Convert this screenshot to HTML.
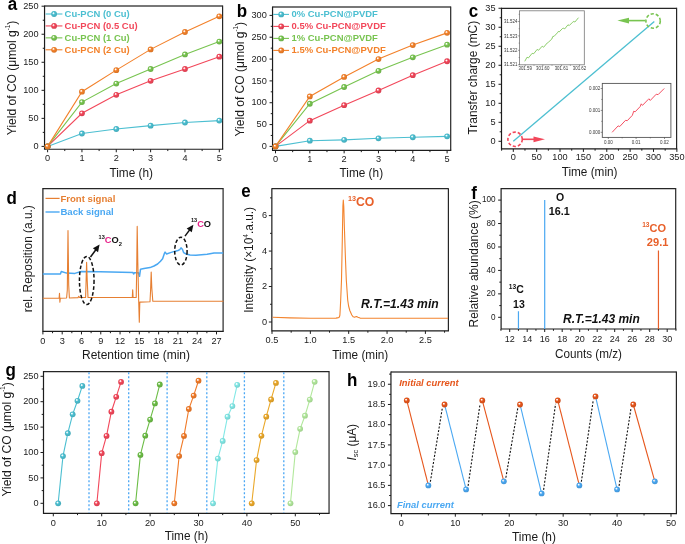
<!DOCTYPE html>
<html><head><meta charset="utf-8"><style>html,body{margin:0;padding:0;background:#fff;overflow:hidden}svg{display:block;filter:blur(0.3px)}</style></head>
<body><svg xmlns="http://www.w3.org/2000/svg" width="685" height="544" viewBox="0 0 685 544" font-family="'Liberation Sans', sans-serif">
<rect width="685" height="544" fill="#fff"/>
<defs><radialGradient id="g4cbfd1" cx="0.46" cy="0.46" r="0.58" fx="0.36" fy="0.34"><stop offset="0" stop-color="#fff"/><stop offset="0.1" stop-color="#fff" stop-opacity="0.85"/><stop offset="0.4" stop-color="#4cbfd1"/><stop offset="1" stop-color="#42a8b7"/></radialGradient><radialGradient id="gf2475a" cx="0.46" cy="0.46" r="0.58" fx="0.36" fy="0.34"><stop offset="0" stop-color="#fff"/><stop offset="0.1" stop-color="#fff" stop-opacity="0.85"/><stop offset="0.4" stop-color="#f2475a"/><stop offset="1" stop-color="#d43e4f"/></radialGradient><radialGradient id="g78c450" cx="0.46" cy="0.46" r="0.58" fx="0.36" fy="0.34"><stop offset="0" stop-color="#fff"/><stop offset="0.1" stop-color="#fff" stop-opacity="0.85"/><stop offset="0.4" stop-color="#78c450"/><stop offset="1" stop-color="#69ac46"/></radialGradient><radialGradient id="gf3812a" cx="0.46" cy="0.46" r="0.58" fx="0.36" fy="0.34"><stop offset="0" stop-color="#fff"/><stop offset="0.1" stop-color="#fff" stop-opacity="0.85"/><stop offset="0.4" stop-color="#f3812a"/><stop offset="1" stop-color="#d57124"/></radialGradient><radialGradient id="g6cbd46" cx="0.46" cy="0.46" r="0.58" fx="0.36" fy="0.34"><stop offset="0" stop-color="#fff"/><stop offset="0.1" stop-color="#fff" stop-opacity="0.85"/><stop offset="0.4" stop-color="#6cbd46"/><stop offset="1" stop-color="#5fa63d"/></radialGradient><radialGradient id="gf07a28" cx="0.46" cy="0.46" r="0.58" fx="0.36" fy="0.34"><stop offset="0" stop-color="#fff"/><stop offset="0.1" stop-color="#fff" stop-opacity="0.85"/><stop offset="0.4" stop-color="#f07a28"/><stop offset="1" stop-color="#d36b23"/></radialGradient><radialGradient id="g82e8e6" cx="0.46" cy="0.46" r="0.58" fx="0.36" fy="0.34"><stop offset="0" stop-color="#fff"/><stop offset="0.1" stop-color="#fff" stop-opacity="0.85"/><stop offset="0.4" stop-color="#82e8e6"/><stop offset="1" stop-color="#72ccca"/></radialGradient><radialGradient id="geaa82a" cx="0.46" cy="0.46" r="0.58" fx="0.36" fy="0.34"><stop offset="0" stop-color="#fff"/><stop offset="0.1" stop-color="#fff" stop-opacity="0.85"/><stop offset="0.4" stop-color="#eaa82a"/><stop offset="1" stop-color="#cd9324"/></radialGradient><radialGradient id="gb2e89c" cx="0.46" cy="0.46" r="0.58" fx="0.36" fy="0.34"><stop offset="0" stop-color="#fff"/><stop offset="0.1" stop-color="#fff" stop-opacity="0.85"/><stop offset="0.4" stop-color="#b2e89c"/><stop offset="1" stop-color="#9ccc89"/></radialGradient><radialGradient id="ge6561c" cx="0.46" cy="0.46" r="0.58" fx="0.36" fy="0.34"><stop offset="0" stop-color="#fff"/><stop offset="0.1" stop-color="#fff" stop-opacity="0.85"/><stop offset="0.4" stop-color="#e6561c"/><stop offset="1" stop-color="#ca4b18"/></radialGradient><radialGradient id="g4aa8f2" cx="0.46" cy="0.46" r="0.58" fx="0.36" fy="0.34"><stop offset="0" stop-color="#fff"/><stop offset="0.1" stop-color="#fff" stop-opacity="0.85"/><stop offset="0.4" stop-color="#4aa8f2"/><stop offset="1" stop-color="#4193d4"/></radialGradient></defs>
<path d="M44.55 6H222.6" fill="none" stroke="#4a4a4a" stroke-width="1.45"/>
<path d="M222.6 5.5V149.25" fill="none" stroke="#262626" stroke-width="1.2"/>
<path d="M44.55 5.5V149.25H223.2" fill="none" stroke="#1c1c1c" stroke-width="1.2"/>
<path d="M47.6 149.25v3M81.94 149.25v3M116.28 149.25v3M150.62 149.25v3M184.96 149.25v3M219.3 149.25v3M64.77 149.25v1.8M99.11 149.25v1.8M133.45 149.25v1.8M167.79 149.25v1.8M202.13 149.25v1.8" stroke="#1c1c1c" stroke-width="1.0"/>
<text x="47.6" y="161.4" font-size="9.57" text-anchor="middle" fill="#1a1a1a" textLength="5.12" lengthAdjust="spacingAndGlyphs">0</text>
<text x="81.94" y="161.4" font-size="9.57" text-anchor="middle" fill="#1a1a1a" textLength="5.12" lengthAdjust="spacingAndGlyphs">1</text>
<text x="116.28" y="161.4" font-size="9.57" text-anchor="middle" fill="#1a1a1a" textLength="5.12" lengthAdjust="spacingAndGlyphs">2</text>
<text x="150.62" y="161.4" font-size="9.57" text-anchor="middle" fill="#1a1a1a" textLength="5.12" lengthAdjust="spacingAndGlyphs">3</text>
<text x="184.96" y="161.4" font-size="9.57" text-anchor="middle" fill="#1a1a1a" textLength="5.12" lengthAdjust="spacingAndGlyphs">4</text>
<text x="219.3" y="161.4" font-size="9.57" text-anchor="middle" fill="#1a1a1a" textLength="5.12" lengthAdjust="spacingAndGlyphs">5</text>
<path d="M44.55 146.4h-3M44.55 118.36h-3M44.55 90.32h-3M44.55 62.28h-3M44.55 34.24h-3M44.55 6.2h-3M44.55 132.38h-1.8M44.55 104.34h-1.8M44.55 76.3h-1.8M44.55 48.26h-1.8M44.55 20.22h-1.8" stroke="#1c1c1c" stroke-width="1.0"/>
<text x="38.6" y="149" font-size="9.57" text-anchor="end" fill="#1a1a1a" textLength="5.12" lengthAdjust="spacingAndGlyphs">0</text>
<text x="38.6" y="120.96" font-size="9.57" text-anchor="end" fill="#1a1a1a" textLength="10.23" lengthAdjust="spacingAndGlyphs">50</text>
<text x="38.6" y="92.92" font-size="9.57" text-anchor="end" fill="#1a1a1a" textLength="15.35" lengthAdjust="spacingAndGlyphs">100</text>
<text x="38.6" y="64.88" font-size="9.57" text-anchor="end" fill="#1a1a1a" textLength="15.35" lengthAdjust="spacingAndGlyphs">150</text>
<text x="38.6" y="36.84" font-size="9.57" text-anchor="end" fill="#1a1a1a" textLength="15.35" lengthAdjust="spacingAndGlyphs">200</text>
<text x="38.6" y="8.8" font-size="9.57" text-anchor="end" fill="#1a1a1a" textLength="15.35" lengthAdjust="spacingAndGlyphs">250</text>
<polyline points="47.6,146.4 81.94,133.5 116.28,129.02 150.62,125.65 184.96,122.51 219.3,120.6" fill="none" stroke="#4cbfd1" stroke-width="1.1"/>
<circle cx="47.6" cy="146.4" r="2.9" fill="url(#g4cbfd1)"/>
<circle cx="81.94" cy="133.5" r="2.9" fill="url(#g4cbfd1)"/>
<circle cx="116.28" cy="129.02" r="2.9" fill="url(#g4cbfd1)"/>
<circle cx="150.62" cy="125.65" r="2.9" fill="url(#g4cbfd1)"/>
<circle cx="184.96" cy="122.51" r="2.9" fill="url(#g4cbfd1)"/>
<circle cx="219.3" cy="120.6" r="2.9" fill="url(#g4cbfd1)"/>
<polyline points="47.6,146.4 81.94,113.31 116.28,94.81 150.62,80.79 184.96,69.01 219.3,56.67" fill="none" stroke="#f2475a" stroke-width="1.1"/>
<circle cx="47.6" cy="146.4" r="2.9" fill="url(#gf2475a)"/>
<circle cx="81.94" cy="113.31" r="2.9" fill="url(#gf2475a)"/>
<circle cx="116.28" cy="94.81" r="2.9" fill="url(#gf2475a)"/>
<circle cx="150.62" cy="80.79" r="2.9" fill="url(#gf2475a)"/>
<circle cx="184.96" cy="69.01" r="2.9" fill="url(#gf2475a)"/>
<circle cx="219.3" cy="56.67" r="2.9" fill="url(#gf2475a)"/>
<polyline points="47.6,146.4 81.94,102.1 116.28,83.59 150.62,69.01 184.96,54.43 219.3,41.53" fill="none" stroke="#78c450" stroke-width="1.1"/>
<circle cx="47.6" cy="146.4" r="2.9" fill="url(#g78c450)"/>
<circle cx="81.94" cy="102.1" r="2.9" fill="url(#g78c450)"/>
<circle cx="116.28" cy="83.59" r="2.9" fill="url(#g78c450)"/>
<circle cx="150.62" cy="69.01" r="2.9" fill="url(#g78c450)"/>
<circle cx="184.96" cy="54.43" r="2.9" fill="url(#g78c450)"/>
<circle cx="219.3" cy="41.53" r="2.9" fill="url(#g78c450)"/>
<polyline points="47.6,146.4 81.94,91.72 116.28,70.13 150.62,49.38 184.96,32 219.3,16.29" fill="none" stroke="#f3812a" stroke-width="1.1"/>
<circle cx="47.6" cy="146.4" r="2.9" fill="url(#gf3812a)"/>
<circle cx="81.94" cy="91.72" r="2.9" fill="url(#gf3812a)"/>
<circle cx="116.28" cy="70.13" r="2.9" fill="url(#gf3812a)"/>
<circle cx="150.62" cy="49.38" r="2.9" fill="url(#gf3812a)"/>
<circle cx="184.96" cy="32" r="2.9" fill="url(#gf3812a)"/>
<circle cx="219.3" cy="16.29" r="2.9" fill="url(#gf3812a)"/>
<path d="M45.6 14H62.4" stroke="#4cbfd1" stroke-width="1.1"/>
<circle cx="54.1" cy="14" r="2.9" fill="url(#g4cbfd1)"/>
<text x="64.6" y="16.9" font-size="9.83" text-anchor="start" font-weight="bold" fill="#4cbfd1" textLength="65.09" lengthAdjust="spacingAndGlyphs">Cu-PCN (0 Cu)</text>
<path d="M45.6 25.93H62.4" stroke="#f2475a" stroke-width="1.1"/>
<circle cx="54.1" cy="25.93" r="2.9" fill="url(#gf2475a)"/>
<text x="64.6" y="28.83" font-size="9.83" text-anchor="start" font-weight="bold" fill="#f2475a" textLength="72.97" lengthAdjust="spacingAndGlyphs">Cu-PCN (0.5 Cu)</text>
<path d="M45.6 37.86H62.4" stroke="#78c450" stroke-width="1.1"/>
<circle cx="54.1" cy="37.86" r="2.9" fill="url(#g78c450)"/>
<text x="64.6" y="40.76" font-size="9.83" text-anchor="start" font-weight="bold" fill="#78c450" textLength="65.09" lengthAdjust="spacingAndGlyphs">Cu-PCN (1 Cu)</text>
<path d="M45.6 49.79H62.4" stroke="#f3812a" stroke-width="1.1"/>
<circle cx="54.1" cy="49.79" r="2.9" fill="url(#gf3812a)"/>
<text x="64.6" y="52.69" font-size="9.83" text-anchor="start" font-weight="bold" fill="#f3812a" textLength="65.09" lengthAdjust="spacingAndGlyphs">Cu-PCN (2 Cu)</text>
<text x="131.2" y="176.9" font-size="12.17" text-anchor="middle" fill="#1a1a1a" textLength="43.55" lengthAdjust="spacingAndGlyphs">Time (h)</text>
<text transform="translate(15.5 135.2) rotate(-90)" font-size="12.48" text-anchor="start" fill="#1a1a1a" textLength="114.46" lengthAdjust="spacingAndGlyphs">Yield of CO (μmol g<tspan font-size="6.45" dy="-6">-1</tspan><tspan dy="6">)</tspan></text>
<text x="7.8" y="10.1" font-size="17.68" text-anchor="start" font-weight="bold" fill="#000" textLength="9.45" lengthAdjust="spacingAndGlyphs">a</text>
<path d="M272.55 7.05H450.7" fill="none" stroke="#4a4a4a" stroke-width="1.45"/>
<path d="M450.7 6.55V150.35" fill="none" stroke="#262626" stroke-width="1.2"/>
<path d="M272.55 6.55V150.35H451.3" fill="none" stroke="#1c1c1c" stroke-width="1.2"/>
<path d="M275.5 150.35v3M309.82 150.35v3M344.14 150.35v3M378.46 150.35v3M412.78 150.35v3M447.1 150.35v3M292.66 150.35v1.8M326.98 150.35v1.8M361.3 150.35v1.8M395.62 150.35v1.8M429.94 150.35v1.8" stroke="#1c1c1c" stroke-width="1.0"/>
<text x="275.5" y="162.3" font-size="9.57" text-anchor="middle" fill="#1a1a1a" textLength="5.12" lengthAdjust="spacingAndGlyphs">0</text>
<text x="309.82" y="162.3" font-size="9.57" text-anchor="middle" fill="#1a1a1a" textLength="5.12" lengthAdjust="spacingAndGlyphs">1</text>
<text x="344.14" y="162.3" font-size="9.57" text-anchor="middle" fill="#1a1a1a" textLength="5.12" lengthAdjust="spacingAndGlyphs">2</text>
<text x="378.46" y="162.3" font-size="9.57" text-anchor="middle" fill="#1a1a1a" textLength="5.12" lengthAdjust="spacingAndGlyphs">3</text>
<text x="412.78" y="162.3" font-size="9.57" text-anchor="middle" fill="#1a1a1a" textLength="5.12" lengthAdjust="spacingAndGlyphs">4</text>
<text x="447.1" y="162.3" font-size="9.57" text-anchor="middle" fill="#1a1a1a" textLength="5.12" lengthAdjust="spacingAndGlyphs">5</text>
<path d="M272.55 146.4h-3M272.55 124.57h-3M272.55 102.73h-3M272.55 80.9h-3M272.55 59.07h-3M272.55 37.23h-3M272.55 15.4h-3M272.55 135.48h-1.8M272.55 113.65h-1.8M272.55 91.82h-1.8M272.55 69.98h-1.8M272.55 48.15h-1.8M272.55 26.32h-1.8" stroke="#1c1c1c" stroke-width="1.0"/>
<text x="266.8" y="149" font-size="9.57" text-anchor="end" fill="#1a1a1a" textLength="5.12" lengthAdjust="spacingAndGlyphs">0</text>
<text x="266.8" y="127.17" font-size="9.57" text-anchor="end" fill="#1a1a1a" textLength="10.23" lengthAdjust="spacingAndGlyphs">50</text>
<text x="266.8" y="105.33" font-size="9.57" text-anchor="end" fill="#1a1a1a" textLength="15.35" lengthAdjust="spacingAndGlyphs">100</text>
<text x="266.8" y="83.5" font-size="9.57" text-anchor="end" fill="#1a1a1a" textLength="15.35" lengthAdjust="spacingAndGlyphs">150</text>
<text x="266.8" y="61.67" font-size="9.57" text-anchor="end" fill="#1a1a1a" textLength="15.35" lengthAdjust="spacingAndGlyphs">200</text>
<text x="266.8" y="39.83" font-size="9.57" text-anchor="end" fill="#1a1a1a" textLength="15.35" lengthAdjust="spacingAndGlyphs">250</text>
<text x="266.8" y="18" font-size="9.57" text-anchor="end" fill="#1a1a1a" textLength="15.35" lengthAdjust="spacingAndGlyphs">300</text>
<polyline points="275.5,146.4 309.82,140.72 344.14,139.85 378.46,138.32 412.78,137.23 447.1,136.36" fill="none" stroke="#4cbfd1" stroke-width="1.1"/>
<circle cx="275.5" cy="146.4" r="2.9" fill="url(#g4cbfd1)"/>
<circle cx="309.82" cy="140.72" r="2.9" fill="url(#g4cbfd1)"/>
<circle cx="344.14" cy="139.85" r="2.9" fill="url(#g4cbfd1)"/>
<circle cx="378.46" cy="138.32" r="2.9" fill="url(#g4cbfd1)"/>
<circle cx="412.78" cy="137.23" r="2.9" fill="url(#g4cbfd1)"/>
<circle cx="447.1" cy="136.36" r="2.9" fill="url(#g4cbfd1)"/>
<polyline points="275.5,146.4 309.82,120.64 344.14,105.14 378.46,90.51 412.78,75.22 447.1,61.25" fill="none" stroke="#f2475a" stroke-width="1.1"/>
<circle cx="275.5" cy="146.4" r="2.9" fill="url(#gf2475a)"/>
<circle cx="309.82" cy="120.64" r="2.9" fill="url(#gf2475a)"/>
<circle cx="344.14" cy="105.14" r="2.9" fill="url(#gf2475a)"/>
<circle cx="378.46" cy="90.51" r="2.9" fill="url(#gf2475a)"/>
<circle cx="412.78" cy="75.22" r="2.9" fill="url(#gf2475a)"/>
<circle cx="447.1" cy="61.25" r="2.9" fill="url(#gf2475a)"/>
<polyline points="275.5,146.4 309.82,103.74 344.14,87.01 378.46,70.86 412.78,57.32 447.1,44.66" fill="none" stroke="#78c450" stroke-width="1.1"/>
<circle cx="275.5" cy="146.4" r="2.9" fill="url(#g78c450)"/>
<circle cx="309.82" cy="103.74" r="2.9" fill="url(#g78c450)"/>
<circle cx="344.14" cy="87.01" r="2.9" fill="url(#g78c450)"/>
<circle cx="378.46" cy="70.86" r="2.9" fill="url(#g78c450)"/>
<circle cx="412.78" cy="57.32" r="2.9" fill="url(#g78c450)"/>
<circle cx="447.1" cy="44.66" r="2.9" fill="url(#g78c450)"/>
<polyline points="275.5,146.4 309.82,96.4 344.14,76.97 378.46,59.07 412.78,45.09 447.1,32.87" fill="none" stroke="#f3812a" stroke-width="1.1"/>
<circle cx="275.5" cy="146.4" r="2.9" fill="url(#gf3812a)"/>
<circle cx="309.82" cy="96.4" r="2.9" fill="url(#gf3812a)"/>
<circle cx="344.14" cy="76.97" r="2.9" fill="url(#gf3812a)"/>
<circle cx="378.46" cy="59.07" r="2.9" fill="url(#gf3812a)"/>
<circle cx="412.78" cy="45.09" r="2.9" fill="url(#gf3812a)"/>
<circle cx="447.1" cy="32.87" r="2.9" fill="url(#gf3812a)"/>
<path d="M273.2 14.4H289" stroke="#4cbfd1" stroke-width="1.1"/>
<circle cx="281.2" cy="14.4" r="2.9" fill="url(#g4cbfd1)"/>
<text x="291.5" y="17.3" font-size="9.83" text-anchor="start" font-weight="bold" fill="#4cbfd1" textLength="86.40" lengthAdjust="spacingAndGlyphs">0% Cu-PCN@PVDF</text>
<path d="M273.2 26.4H289" stroke="#f2475a" stroke-width="1.1"/>
<circle cx="281.2" cy="26.4" r="2.9" fill="url(#gf2475a)"/>
<text x="291.5" y="29.3" font-size="9.83" text-anchor="start" font-weight="bold" fill="#f2475a" textLength="94.28" lengthAdjust="spacingAndGlyphs">0.5% Cu-PCN@PVDF</text>
<path d="M273.2 38.4H289" stroke="#78c450" stroke-width="1.1"/>
<circle cx="281.2" cy="38.4" r="2.9" fill="url(#g78c450)"/>
<text x="291.5" y="41.3" font-size="9.83" text-anchor="start" font-weight="bold" fill="#78c450" textLength="86.40" lengthAdjust="spacingAndGlyphs">1% Cu-PCN@PVDF</text>
<path d="M273.2 50.4H289" stroke="#f3812a" stroke-width="1.1"/>
<circle cx="281.2" cy="50.4" r="2.9" fill="url(#gf3812a)"/>
<text x="291.5" y="53.3" font-size="9.83" text-anchor="start" font-weight="bold" fill="#f3812a" textLength="94.28" lengthAdjust="spacingAndGlyphs">1.5% Cu-PCN@PVDF</text>
<text x="361.3" y="176.9" font-size="12.17" text-anchor="middle" fill="#1a1a1a" textLength="43.55" lengthAdjust="spacingAndGlyphs">Time (h)</text>
<text transform="translate(243.8 136.5) rotate(-90)" font-size="12.48" text-anchor="start" fill="#1a1a1a" textLength="114.46" lengthAdjust="spacingAndGlyphs">Yield of CO (μmol g<tspan font-size="6.45" dy="-6">-1</tspan><tspan dy="6">)</tspan></text>
<text x="236.8" y="16.5" font-size="17.68" text-anchor="start" font-weight="bold" fill="#000" textLength="10.38" lengthAdjust="spacingAndGlyphs">b</text>
<path d="M501.5 8.25H676.6" fill="none" stroke="#262626" stroke-width="1.25"/>
<path d="M676.6 7.75V148.9" fill="none" stroke="#262626" stroke-width="1.2"/>
<path d="M501.5 7.75V148.9H677.2" fill="none" stroke="#1c1c1c" stroke-width="1.2"/>
<path d="M513.3 148.9v3M536.67 148.9v3M560.03 148.9v3M583.4 148.9v3M606.77 148.9v3M630.13 148.9v3M653.5 148.9v3M676.87 148.9v3M524.98 148.9v1.8M548.35 148.9v1.8M571.72 148.9v1.8M595.08 148.9v1.8M618.45 148.9v1.8M641.82 148.9v1.8M665.18 148.9v1.8M501.62 148.9v1.8" stroke="#1c1c1c" stroke-width="1.0"/>
<text x="513.3" y="160.4" font-size="9.57" text-anchor="middle" fill="#1a1a1a" textLength="5.12" lengthAdjust="spacingAndGlyphs">0</text>
<text x="536.67" y="160.4" font-size="9.57" text-anchor="middle" fill="#1a1a1a" textLength="10.23" lengthAdjust="spacingAndGlyphs">50</text>
<text x="560.03" y="160.4" font-size="9.57" text-anchor="middle" fill="#1a1a1a" textLength="15.35" lengthAdjust="spacingAndGlyphs">100</text>
<text x="583.4" y="160.4" font-size="9.57" text-anchor="middle" fill="#1a1a1a" textLength="15.35" lengthAdjust="spacingAndGlyphs">150</text>
<text x="606.77" y="160.4" font-size="9.57" text-anchor="middle" fill="#1a1a1a" textLength="15.35" lengthAdjust="spacingAndGlyphs">200</text>
<text x="630.13" y="160.4" font-size="9.57" text-anchor="middle" fill="#1a1a1a" textLength="15.35" lengthAdjust="spacingAndGlyphs">250</text>
<text x="653.5" y="160.4" font-size="9.57" text-anchor="middle" fill="#1a1a1a" textLength="15.35" lengthAdjust="spacingAndGlyphs">300</text>
<text x="676.87" y="160.4" font-size="9.57" text-anchor="middle" fill="#1a1a1a" textLength="15.35" lengthAdjust="spacingAndGlyphs">350</text>
<path d="M501.5 141.3h-3M501.5 122.29h-3M501.5 103.29h-3M501.5 84.28h-3M501.5 65.27h-3M501.5 46.26h-3M501.5 27.26h-3M501.5 8.25h-3M501.5 131.8h-1.8M501.5 112.79h-1.8M501.5 93.78h-1.8M501.5 74.78h-1.8M501.5 55.77h-1.8M501.5 36.76h-1.8M501.5 17.75h-1.8" stroke="#1c1c1c" stroke-width="1.0"/>
<text x="495.6" y="143.9" font-size="9.57" text-anchor="end" fill="#1a1a1a" textLength="5.12" lengthAdjust="spacingAndGlyphs">0</text>
<text x="495.6" y="124.89" font-size="9.57" text-anchor="end" fill="#1a1a1a" textLength="5.12" lengthAdjust="spacingAndGlyphs">5</text>
<text x="495.6" y="105.89" font-size="9.57" text-anchor="end" fill="#1a1a1a" textLength="10.23" lengthAdjust="spacingAndGlyphs">10</text>
<text x="495.6" y="86.88" font-size="9.57" text-anchor="end" fill="#1a1a1a" textLength="10.23" lengthAdjust="spacingAndGlyphs">15</text>
<text x="495.6" y="67.87" font-size="9.57" text-anchor="end" fill="#1a1a1a" textLength="10.23" lengthAdjust="spacingAndGlyphs">20</text>
<text x="495.6" y="48.86" font-size="9.57" text-anchor="end" fill="#1a1a1a" textLength="10.23" lengthAdjust="spacingAndGlyphs">25</text>
<text x="495.6" y="29.86" font-size="9.57" text-anchor="end" fill="#1a1a1a" textLength="10.23" lengthAdjust="spacingAndGlyphs">30</text>
<text x="495.6" y="10.85" font-size="9.57" text-anchor="end" fill="#1a1a1a" textLength="10.23" lengthAdjust="spacingAndGlyphs">35</text>
<path d="M513.3 141.3L654.3 21.4" stroke="#4cbfd1" stroke-width="1.3"/>
<text x="589.6" y="175.9" font-size="12.17" text-anchor="middle" fill="#1a1a1a" textLength="55.89" lengthAdjust="spacingAndGlyphs">Time (min)</text>
<text transform="translate(477.3 134.5) rotate(-90)" font-size="12.38" text-anchor="start" fill="#1a1a1a" textLength="113.74" lengthAdjust="spacingAndGlyphs">Transfer charge (mC)</text>
<text x="468.8" y="17.3" font-size="17.68" text-anchor="start" font-weight="bold" fill="#000" textLength="9.45" lengthAdjust="spacingAndGlyphs">c</text>
<circle cx="515.1" cy="139.3" r="7.2" fill="none" stroke="#f2475a" stroke-width="1.6" stroke-dasharray="3.2 2"/>
<path d="M523 139.3H535" stroke="#f2475a" stroke-width="1.6"/><path d="M533.5 136.4L545 139.3L533.5 142.2Z" fill="#f2475a"/>
<circle cx="653.1" cy="21" r="7.2" fill="none" stroke="#78c450" stroke-width="1.6" stroke-dasharray="3.2 2"/>
<path d="M645 20.6H627" stroke="#78c450" stroke-width="1.6"/><path d="M629 17.7L617.4 20.6L629 23.5Z" fill="#78c450"/>
<rect x="519.6" y="10.8" width="64.7" height="54" fill="#fff" stroke="#777" stroke-width="0.8"/>
<path d="M519.6 21.5h-1.5M519.6 35.9h-1.5M519.6 50.3h-1.5M519.6 64.7h-1.5M519.6 28.7h-0.9M519.6 43.1h-0.9M519.6 57.5h-0.9M519.6 14.3h-0.9M525.2 64.8v1.5M542.8 64.8v1.5M561.4 64.8v1.5M579.5 64.8v1.5M534 64.8v0.9M552 64.8v0.9M570.4 64.8v0.9" stroke="#555" stroke-width="0.6"/>
<text x="517.4" y="23.1" font-size="4.58" text-anchor="end" fill="#333" textLength="13.46" lengthAdjust="spacingAndGlyphs">31.524</text>
<text x="517.4" y="37.5" font-size="4.58" text-anchor="end" fill="#333" textLength="13.46" lengthAdjust="spacingAndGlyphs">31.523</text>
<text x="517.4" y="51.9" font-size="4.58" text-anchor="end" fill="#333" textLength="13.46" lengthAdjust="spacingAndGlyphs">31.522</text>
<text x="517.4" y="66.3" font-size="4.58" text-anchor="end" fill="#333" textLength="13.46" lengthAdjust="spacingAndGlyphs">31.521</text>
<text x="525.2" y="70.4" font-size="4.58" text-anchor="middle" fill="#333" textLength="13.46" lengthAdjust="spacingAndGlyphs">301.59</text>
<text x="542.8" y="70.4" font-size="4.58" text-anchor="middle" fill="#333" textLength="13.46" lengthAdjust="spacingAndGlyphs">301.60</text>
<text x="561.4" y="70.4" font-size="4.58" text-anchor="middle" fill="#333" textLength="13.46" lengthAdjust="spacingAndGlyphs">301.61</text>
<text x="579.5" y="70.4" font-size="4.58" text-anchor="middle" fill="#333" textLength="13.46" lengthAdjust="spacingAndGlyphs">301.62</text>
<polyline points="524.76,61.32 527.05,57.19 528.43,57.92 532.11,53.33 533.76,53.69 537.16,49.38 538.54,50.3 542.22,46.16 543.59,47.26 547.27,42.94 548.65,42.03 551.86,38.99 552.78,36.51 554.16,36.24 557.38,32.84 558.3,31.46 559.21,31.92 562.43,28.52 563.81,28.24 564.73,28.89 567.94,24.84 569.32,25.49 572.54,22.27 573.92,21.35 574.83,22.09 578.51,17.68" fill="none" stroke="#78c450" stroke-width="0.85" stroke-linejoin="round"/>
<rect x="602.3" y="83.4" width="68.6" height="54" fill="#fff" stroke="#555" stroke-width="0.9"/>
<path d="M602.3 88.5h-1.6M602.3 110.4h-1.6M602.3 132.3h-1.6M602.3 99.45h-1M602.3 121.35h-1M608.3 137.4v1.6M636.1 137.4v1.6M664.5 137.4v1.6M622.2 137.4v1M650.3 137.4v1" stroke="#444" stroke-width="0.6"/>
<text x="600.2" y="90.1" font-size="4.68" text-anchor="end" fill="#333" textLength="11.26" lengthAdjust="spacingAndGlyphs">0.002</text>
<text x="600.2" y="112" font-size="4.68" text-anchor="end" fill="#333" textLength="11.26" lengthAdjust="spacingAndGlyphs">0.001</text>
<text x="600.2" y="133.9" font-size="4.68" text-anchor="end" fill="#333" textLength="11.26" lengthAdjust="spacingAndGlyphs">0.000</text>
<text x="608.3" y="143.6" font-size="4.68" text-anchor="middle" fill="#333" textLength="8.76" lengthAdjust="spacingAndGlyphs">0.00</text>
<text x="636.1" y="143.6" font-size="4.68" text-anchor="middle" fill="#333" textLength="8.76" lengthAdjust="spacingAndGlyphs">0.01</text>
<text x="664.5" y="143.6" font-size="4.68" text-anchor="middle" fill="#333" textLength="8.76" lengthAdjust="spacingAndGlyphs">0.02</text>
<polyline points="612.13,132.32 618.11,125.89 619.76,126.53 625.46,120.38 627.3,120.65 632.35,115.32 633.73,111.19 635.11,111.83 640.16,106.59 641.26,103.84 642.46,105.4 647.97,99.7 648.89,98.78 650.27,100.44 656.24,94.19 658.08,94.65 664.23,88.49" fill="none" stroke="#f2475a" stroke-width="0.95" stroke-linejoin="round"/>
<path d="M42.9 188.6H223.1" fill="none" stroke="#262626" stroke-width="1.25"/>
<path d="M223.1 188.1V331.4" fill="none" stroke="#262626" stroke-width="1.2"/>
<path d="M42.9 188.1V331.4H223.7" fill="none" stroke="#1c1c1c" stroke-width="1.2"/>
<path d="M42.9 331.4v3M62.19 331.4v3M81.48 331.4v3M100.77 331.4v3M120.06 331.4v3M139.34 331.4v3M158.63 331.4v3M177.92 331.4v3M197.21 331.4v3M216.5 331.4v3M52.54 331.4v1.8M71.83 331.4v1.8M91.12 331.4v1.8M110.41 331.4v1.8M129.7 331.4v1.8M148.99 331.4v1.8M168.28 331.4v1.8M187.57 331.4v1.8M206.86 331.4v1.8" stroke="#1c1c1c" stroke-width="1.0"/>
<text x="42.9" y="344" font-size="9.57" text-anchor="middle" fill="#1a1a1a" textLength="5.12" lengthAdjust="spacingAndGlyphs">0</text>
<text x="62.19" y="344" font-size="9.57" text-anchor="middle" fill="#1a1a1a" textLength="5.12" lengthAdjust="spacingAndGlyphs">3</text>
<text x="81.48" y="344" font-size="9.57" text-anchor="middle" fill="#1a1a1a" textLength="5.12" lengthAdjust="spacingAndGlyphs">6</text>
<text x="100.77" y="344" font-size="9.57" text-anchor="middle" fill="#1a1a1a" textLength="5.12" lengthAdjust="spacingAndGlyphs">9</text>
<text x="120.06" y="344" font-size="9.57" text-anchor="middle" fill="#1a1a1a" textLength="10.23" lengthAdjust="spacingAndGlyphs">12</text>
<text x="139.34" y="344" font-size="9.57" text-anchor="middle" fill="#1a1a1a" textLength="10.23" lengthAdjust="spacingAndGlyphs">15</text>
<text x="158.63" y="344" font-size="9.57" text-anchor="middle" fill="#1a1a1a" textLength="10.23" lengthAdjust="spacingAndGlyphs">18</text>
<text x="177.92" y="344" font-size="9.57" text-anchor="middle" fill="#1a1a1a" textLength="10.23" lengthAdjust="spacingAndGlyphs">21</text>
<text x="197.21" y="344" font-size="9.57" text-anchor="middle" fill="#1a1a1a" textLength="10.23" lengthAdjust="spacingAndGlyphs">24</text>
<text x="216.5" y="344" font-size="9.57" text-anchor="middle" fill="#1a1a1a" textLength="10.23" lengthAdjust="spacingAndGlyphs">27</text>
<polyline points="42.8,274 60.4,274 61.3,271.5 66.6,273.1 74.9,273.4 78,272.4 81.3,271.6 100,271.8 133,272.6 133.6,274 134.3,272.8 138.4,272.8 139.5,276.3 140.5,269.3 144,268.6 150,267.6 154,266 157.6,264 160.5,261.2 162.6,258.7 164.3,253.7 165.1,252.1 166.6,254 170.4,252.6 174.5,251.4 178,250.5 179.8,249.6 181,247.9 182.4,249.3 183.6,252.6 186.2,254 190,255 195.9,255.3 207.1,254.2 214.1,252.9 223.2,252.9" fill="none" stroke="#4aa8f2" stroke-width="1.5" stroke-linejoin="round"/>
<polyline points="42.8,298.3 59.1,298.3 59.5,293.2 59.9,302.2 60.3,298.2 66.6,298 67.3,290 68,230.5 68.7,285 69.4,298 78,297.6 78.8,296.3 79.6,297.5 85.6,297.5 86,285 86.6,262.2 87.2,280 88,297.5 132.3,297.5 132.7,289.8 133.1,297.5 136.2,297.5 136.7,270 137.2,226.4 137.8,262 138.6,297.5 139.3,322.2 139.8,302.1 150,301.8 150.6,290 151.2,272 151.8,288 152.8,301.3 223.5,301.3" fill="none" stroke="#e67f32" stroke-width="1.1" stroke-linejoin="round"/>
<path d="M45.5 198.4H59.6" stroke="#e67f32" stroke-width="1.2"/><path d="M45.5 212H59.6" stroke="#4aa8f2" stroke-width="1.4"/>
<text x="60.4" y="201.7" font-size="9.98" text-anchor="start" font-weight="bold" fill="#e67f32" textLength="54.93" lengthAdjust="spacingAndGlyphs">Front signal</text>
<text x="60.4" y="215.3" font-size="9.98" text-anchor="start" font-weight="bold" fill="#4aa8f2" textLength="53.36" lengthAdjust="spacingAndGlyphs">Back signal</text>
<ellipse cx="86.75" cy="280.5" rx="7.3" ry="24.1" fill="none" stroke="#111" stroke-width="1.5" stroke-dasharray="3.6 2.2"/>
<ellipse cx="180.9" cy="251.1" rx="6.2" ry="13.9" fill="none" stroke="#111" stroke-width="1.5" stroke-dasharray="3.6 2.2"/>
<path d="M90.5 257L96.05 249.44" stroke="#111" stroke-width="1.5"/>
<path d="M99.6 244.6L98.04 252.14L92.88 248.35Z" fill="#111"/>
<path d="M185 236.1L189.82 229.62" stroke="#111" stroke-width="1.5"/>
<path d="M193.4 224.8L191.79 232.33L186.66 228.51Z" fill="#111"/>
<text x="98.6" y="243.3" font-weight="bold" fill="#111" textLength="23.40" lengthAdjust="spacingAndGlyphs"><tspan font-size="5.82" dy="-4.6">13</tspan><tspan font-size="9.67" dy="4.6" fill="#e8208a">C</tspan><tspan font-size="9.67">O</tspan><tspan font-size="6.03" dy="2.8">2</tspan></text>
<text x="190.9" y="226.9" font-weight="bold" fill="#111" textLength="20.18" lengthAdjust="spacingAndGlyphs"><tspan font-size="5.82" dy="-4.6">13</tspan><tspan font-size="9.67" dy="4.6" fill="#e8208a">C</tspan><tspan font-size="9.67">O</tspan></text>
<text x="136" y="358.6" font-size="12.48" text-anchor="middle" fill="#1a1a1a" textLength="108.04" lengthAdjust="spacingAndGlyphs">Retention time (min)</text>
<text transform="translate(32.3 312.3) rotate(-90)" font-size="12.38" text-anchor="start" fill="#1a1a1a" textLength="107.15" lengthAdjust="spacingAndGlyphs">rel. Reposition (a.u.)</text>
<text x="6.4" y="203.5" font-size="17.68" text-anchor="start" font-weight="bold" fill="#000" textLength="10.38" lengthAdjust="spacingAndGlyphs">d</text>
<path d="M271.85 188.65H448.4" fill="none" stroke="#262626" stroke-width="1.25"/>
<path d="M448.4 188.15V330.9" fill="none" stroke="#262626" stroke-width="1.2"/>
<path d="M271.85 188.15V330.9H449" fill="none" stroke="#1c1c1c" stroke-width="1.2"/>
<path d="M272 330.9v3M310.35 330.9v3M348.7 330.9v3M387.05 330.9v3M425.4 330.9v3M291.18 330.9v1.8M329.52 330.9v1.8M367.88 330.9v1.8M406.22 330.9v1.8M444.57 330.9v1.8" stroke="#1c1c1c" stroke-width="1.0"/>
<text x="272" y="343" font-size="9.57" text-anchor="middle" fill="#1a1a1a" textLength="12.79" lengthAdjust="spacingAndGlyphs">0.5</text>
<text x="310.35" y="343" font-size="9.57" text-anchor="middle" fill="#1a1a1a" textLength="12.79" lengthAdjust="spacingAndGlyphs">1.0</text>
<text x="348.7" y="343" font-size="9.57" text-anchor="middle" fill="#1a1a1a" textLength="12.79" lengthAdjust="spacingAndGlyphs">1.5</text>
<text x="387.05" y="343" font-size="9.57" text-anchor="middle" fill="#1a1a1a" textLength="12.79" lengthAdjust="spacingAndGlyphs">2.0</text>
<text x="425.4" y="343" font-size="9.57" text-anchor="middle" fill="#1a1a1a" textLength="12.79" lengthAdjust="spacingAndGlyphs">2.5</text>
<path d="M271.85 322h-3M271.85 286.53h-3M271.85 251.07h-3M271.85 215.6h-3M271.85 304.27h-1.8M271.85 268.8h-1.8M271.85 233.33h-1.8M271.85 197.87h-1.8" stroke="#1c1c1c" stroke-width="1.0"/>
<text x="267" y="324.6" font-size="9.57" text-anchor="end" fill="#1a1a1a" textLength="5.12" lengthAdjust="spacingAndGlyphs">0</text>
<text x="267" y="289.13" font-size="9.57" text-anchor="end" fill="#1a1a1a" textLength="5.12" lengthAdjust="spacingAndGlyphs">2</text>
<text x="267" y="253.67" font-size="9.57" text-anchor="end" fill="#1a1a1a" textLength="5.12" lengthAdjust="spacingAndGlyphs">4</text>
<text x="267" y="218.2" font-size="9.57" text-anchor="end" fill="#1a1a1a" textLength="5.12" lengthAdjust="spacingAndGlyphs">6</text>
<polyline points="272.5,317.3 290,317.9 310.5,318.2 330,318.2 336,318.1 338.5,317.6 339.4,317.1 339.9,315 340.3,308 340.7,300 341.5,280 342.3,240 342.9,206 343.3,200.1 343.8,207 344.4,228 345.5,260 346.3,280 347.7,300 348.6,306 349.8,310.5 351.8,315 353.2,316.8 354.5,317.2 356.4,316.5 358,317.3 360.1,318.1 380,318.3 448,318.3" fill="none" stroke="#f3842e" stroke-width="1.1" stroke-linejoin="round"/>
<text x="347.9" y="206.3" font-weight="bold" fill="#e8602a" textLength="26.31" lengthAdjust="spacingAndGlyphs"><tspan font-size="7.49" dy="-5.6">13</tspan><tspan font-size="12.69" dy="5.6">CO</tspan></text>
<text x="361" y="307.7" font-size="12.48" text-anchor="start" font-weight="bold" font-style="italic" fill="#111" textLength="77.70" lengthAdjust="spacingAndGlyphs">R.T.=1.43 min</text>
<text x="360.3" y="358.7" font-size="12.17" text-anchor="middle" fill="#1a1a1a" textLength="55.89" lengthAdjust="spacingAndGlyphs">Time (min)</text>
<text transform="translate(252.8 312.7) rotate(-90)" font-size="12.38" text-anchor="start" fill="#1a1a1a" textLength="105.80" lengthAdjust="spacingAndGlyphs">Intemsity (×10<tspan font-size="6.76" dy="-4.5">4</tspan><tspan dy="4.5">.a.u.)</tspan></text>
<text x="241.3" y="196.5" font-size="17.68" text-anchor="start" font-weight="bold" fill="#000" textLength="9.45" lengthAdjust="spacingAndGlyphs">e</text>
<path d="M501.1 188.5H675.7" fill="none" stroke="#262626" stroke-width="1.25"/>
<path d="M675.7 188V329" fill="none" stroke="#262626" stroke-width="1.2"/>
<path d="M501.1 188V329H676.3" fill="none" stroke="#1c1c1c" stroke-width="1.2"/>
<path d="M509.7 329v3M527.2 329v3M544.7 329v3M562.2 329v3M579.7 329v3M597.2 329v3M614.7 329v3M632.2 329v3M649.7 329v3M667.2 329v3M500.95 329v1.8M518.45 329v1.8M535.95 329v1.8M553.45 329v1.8M570.95 329v1.8M588.45 329v1.8M605.95 329v1.8M623.45 329v1.8M640.95 329v1.8M658.45 329v1.8M675.95 329v1.8" stroke="#1c1c1c" stroke-width="1.0"/>
<text x="509.7" y="341.7" font-size="9.36" text-anchor="middle" fill="#1a1a1a" textLength="10.01" lengthAdjust="spacingAndGlyphs">12</text>
<text x="527.2" y="341.7" font-size="9.36" text-anchor="middle" fill="#1a1a1a" textLength="10.01" lengthAdjust="spacingAndGlyphs">14</text>
<text x="544.7" y="341.7" font-size="9.36" text-anchor="middle" fill="#1a1a1a" textLength="10.01" lengthAdjust="spacingAndGlyphs">16</text>
<text x="562.2" y="341.7" font-size="9.36" text-anchor="middle" fill="#1a1a1a" textLength="10.01" lengthAdjust="spacingAndGlyphs">18</text>
<text x="579.7" y="341.7" font-size="9.36" text-anchor="middle" fill="#1a1a1a" textLength="10.01" lengthAdjust="spacingAndGlyphs">20</text>
<text x="597.2" y="341.7" font-size="9.36" text-anchor="middle" fill="#1a1a1a" textLength="10.01" lengthAdjust="spacingAndGlyphs">22</text>
<text x="614.7" y="341.7" font-size="9.36" text-anchor="middle" fill="#1a1a1a" textLength="10.01" lengthAdjust="spacingAndGlyphs">24</text>
<text x="632.2" y="341.7" font-size="9.36" text-anchor="middle" fill="#1a1a1a" textLength="10.01" lengthAdjust="spacingAndGlyphs">26</text>
<text x="649.7" y="341.7" font-size="9.36" text-anchor="middle" fill="#1a1a1a" textLength="10.01" lengthAdjust="spacingAndGlyphs">28</text>
<text x="667.2" y="341.7" font-size="9.36" text-anchor="middle" fill="#1a1a1a" textLength="10.01" lengthAdjust="spacingAndGlyphs">30</text>
<path d="M501.1 317.3h-3M501.1 293.86h-3M501.1 270.42h-3M501.1 246.98h-3M501.1 223.54h-3M501.1 200.1h-3M501.1 305.58h-1.8M501.1 282.14h-1.8M501.1 258.7h-1.8M501.1 235.26h-1.8M501.1 211.82h-1.8" stroke="#1c1c1c" stroke-width="1.0"/>
<text x="495.6" y="319.5" font-size="8.53" text-anchor="end" fill="#1a1a1a" textLength="4.56" lengthAdjust="spacingAndGlyphs">0</text>
<text x="495.6" y="296.06" font-size="8.53" text-anchor="end" fill="#1a1a1a" textLength="9.12" lengthAdjust="spacingAndGlyphs">20</text>
<text x="495.6" y="272.62" font-size="8.53" text-anchor="end" fill="#1a1a1a" textLength="9.12" lengthAdjust="spacingAndGlyphs">40</text>
<text x="495.6" y="249.18" font-size="8.53" text-anchor="end" fill="#1a1a1a" textLength="9.12" lengthAdjust="spacingAndGlyphs">60</text>
<text x="495.6" y="225.74" font-size="8.53" text-anchor="end" fill="#1a1a1a" textLength="9.12" lengthAdjust="spacingAndGlyphs">80</text>
<text x="495.6" y="202.3" font-size="8.53" text-anchor="end" fill="#1a1a1a" textLength="13.68" lengthAdjust="spacingAndGlyphs">100</text>
<path d="M518.45 311.21V329M544.7 200.1V329" stroke="#4aa8f2" stroke-width="1.2"/>
<path d="M658.45 250.5V329" stroke="#e8602a" stroke-width="1.2"/>
<text x="560.1" y="200.7" font-size="10.92" text-anchor="middle" font-weight="bold" fill="#111" textLength="8.17" lengthAdjust="spacingAndGlyphs">O</text>
<text x="559.2" y="215" font-size="11.23" text-anchor="middle" font-weight="bold" fill="#111" textLength="21.02" lengthAdjust="spacingAndGlyphs">16.1</text>
<text x="508.8" y="293.3" font-weight="bold" fill="#111" textLength="14.92" lengthAdjust="spacingAndGlyphs"><tspan font-size="6.86" dy="-4.4">13</tspan><tspan font-size="10.92" dy="4.4">C</tspan></text>
<text x="518.9" y="307.7" font-size="10.92" text-anchor="middle" font-weight="bold" fill="#111" textLength="11.68" lengthAdjust="spacingAndGlyphs">13</text>
<text x="642.2" y="231.7" font-weight="bold" fill="#e8602a" textLength="23.84" lengthAdjust="spacingAndGlyphs"><tspan font-size="6.86" dy="-4.4">13</tspan><tspan font-size="11.44" dy="4.4">CO</tspan></text>
<text x="657.6" y="246.2" font-size="11.54" text-anchor="middle" font-weight="bold" fill="#e8602a" textLength="21.60" lengthAdjust="spacingAndGlyphs">29.1</text>
<text x="563" y="323.4" font-size="12.32" text-anchor="start" font-weight="bold" font-style="italic" fill="#111" textLength="76.72" lengthAdjust="spacingAndGlyphs">R.T.=1.43 min</text>
<text x="588.5" y="357.9" font-size="12.17" text-anchor="middle" fill="#1a1a1a" textLength="66.96" lengthAdjust="spacingAndGlyphs">Counts (m/z)</text>
<text transform="translate(477.8 327.4) rotate(-90)" font-size="12.38" text-anchor="start" fill="#1a1a1a" textLength="127.01" lengthAdjust="spacingAndGlyphs">Relative abundance (%)</text>
<text x="471.2" y="199.2" font-size="17.68" text-anchor="start" font-weight="bold" fill="#000" textLength="5.66" lengthAdjust="spacingAndGlyphs">f</text>
<path d="M43.5 371.55H329.05" fill="none" stroke="#262626" stroke-width="1.25"/>
<path d="M329.05 371.05V513.3" fill="none" stroke="#262626" stroke-width="1.2"/>
<path d="M43.5 371.05V513.3H329.65" fill="none" stroke="#1c1c1c" stroke-width="1.2"/>
<path d="M53.3 513.3v3M101.7 513.3v3M150.1 513.3v3M198.5 513.3v3M246.9 513.3v3M295.3 513.3v3M77.5 513.3v1.8M125.9 513.3v1.8M174.3 513.3v1.8M222.7 513.3v1.8M271.1 513.3v1.8M319.5 513.3v1.8" stroke="#1c1c1c" stroke-width="1.0"/>
<text x="53.3" y="525.5" font-size="9.57" text-anchor="middle" fill="#1a1a1a" textLength="5.12" lengthAdjust="spacingAndGlyphs">0</text>
<text x="101.7" y="525.5" font-size="9.57" text-anchor="middle" fill="#1a1a1a" textLength="10.23" lengthAdjust="spacingAndGlyphs">10</text>
<text x="150.1" y="525.5" font-size="9.57" text-anchor="middle" fill="#1a1a1a" textLength="10.23" lengthAdjust="spacingAndGlyphs">20</text>
<text x="198.5" y="525.5" font-size="9.57" text-anchor="middle" fill="#1a1a1a" textLength="10.23" lengthAdjust="spacingAndGlyphs">30</text>
<text x="246.9" y="525.5" font-size="9.57" text-anchor="middle" fill="#1a1a1a" textLength="10.23" lengthAdjust="spacingAndGlyphs">40</text>
<text x="295.3" y="525.5" font-size="9.57" text-anchor="middle" fill="#1a1a1a" textLength="10.23" lengthAdjust="spacingAndGlyphs">50</text>
<path d="M43.5 503.3h-3M43.5 477.9h-3M43.5 452.5h-3M43.5 427.1h-3M43.5 401.7h-3M43.5 376.3h-3M43.5 490.6h-1.8M43.5 465.2h-1.8M43.5 439.8h-1.8M43.5 414.4h-1.8M43.5 389h-1.8" stroke="#1c1c1c" stroke-width="1.0"/>
<text x="38.6" y="505.9" font-size="9.57" text-anchor="end" fill="#1a1a1a" textLength="5.12" lengthAdjust="spacingAndGlyphs">0</text>
<text x="38.6" y="480.5" font-size="9.57" text-anchor="end" fill="#1a1a1a" textLength="10.23" lengthAdjust="spacingAndGlyphs">50</text>
<text x="38.6" y="455.1" font-size="9.57" text-anchor="end" fill="#1a1a1a" textLength="15.35" lengthAdjust="spacingAndGlyphs">100</text>
<text x="38.6" y="429.7" font-size="9.57" text-anchor="end" fill="#1a1a1a" textLength="15.35" lengthAdjust="spacingAndGlyphs">150</text>
<text x="38.6" y="404.3" font-size="9.57" text-anchor="end" fill="#1a1a1a" textLength="15.35" lengthAdjust="spacingAndGlyphs">200</text>
<text x="38.6" y="378.9" font-size="9.57" text-anchor="end" fill="#1a1a1a" textLength="15.35" lengthAdjust="spacingAndGlyphs">250</text>
<path d="M89 372.15V512.7M128.7 372.15V512.7M167.1 372.15V512.7M206.8 372.15V512.7M244.4 372.15V512.7M283.8 372.15V512.7" stroke="#4aa6f4" stroke-width="1.3" stroke-dasharray="2.2 1.8"/>
<polyline points="58.14,503.3 62.98,456.11 67.82,433.2 72.66,414.3 77.5,400.79 82.34,385.9" fill="none" stroke="#4cbfd1" stroke-width="1.1"/>
<circle cx="58.14" cy="503.3" r="2.9" fill="url(#g4cbfd1)"/>
<circle cx="62.98" cy="456.11" r="2.9" fill="url(#g4cbfd1)"/>
<circle cx="67.82" cy="433.2" r="2.9" fill="url(#g4cbfd1)"/>
<circle cx="72.66" cy="414.3" r="2.9" fill="url(#g4cbfd1)"/>
<circle cx="77.5" cy="400.79" r="2.9" fill="url(#g4cbfd1)"/>
<circle cx="82.34" cy="385.9" r="2.9" fill="url(#g4cbfd1)"/>
<polyline points="96.86,503.3 101.7,453.21 106.54,435.89 111.38,411.71 116.22,396.82 121.06,381.89" fill="none" stroke="#f2475a" stroke-width="1.1"/>
<circle cx="96.86" cy="503.3" r="2.9" fill="url(#gf2475a)"/>
<circle cx="101.7" cy="453.21" r="2.9" fill="url(#gf2475a)"/>
<circle cx="106.54" cy="435.89" r="2.9" fill="url(#gf2475a)"/>
<circle cx="111.38" cy="411.71" r="2.9" fill="url(#gf2475a)"/>
<circle cx="116.22" cy="396.82" r="2.9" fill="url(#gf2475a)"/>
<circle cx="121.06" cy="381.89" r="2.9" fill="url(#gf2475a)"/>
<polyline points="135.58,503.3 140.42,454.89 145.26,435.69 150.1,419.58 154.94,403.38 159.78,384.48" fill="none" stroke="#6cbd46" stroke-width="1.1"/>
<circle cx="135.58" cy="503.3" r="2.9" fill="url(#g6cbd46)"/>
<circle cx="140.42" cy="454.89" r="2.9" fill="url(#g6cbd46)"/>
<circle cx="145.26" cy="435.69" r="2.9" fill="url(#g6cbd46)"/>
<circle cx="150.1" cy="419.58" r="2.9" fill="url(#g6cbd46)"/>
<circle cx="154.94" cy="403.38" r="2.9" fill="url(#g6cbd46)"/>
<circle cx="159.78" cy="384.48" r="2.9" fill="url(#g6cbd46)"/>
<polyline points="174.3,503.3 179.14,456.11 183.98,435.89 188.82,409.02 193.66,395.6 198.5,380.72" fill="none" stroke="#f07a28" stroke-width="1.1"/>
<circle cx="174.3" cy="503.3" r="2.9" fill="url(#gf07a28)"/>
<circle cx="179.14" cy="456.11" r="2.9" fill="url(#gf07a28)"/>
<circle cx="183.98" cy="435.89" r="2.9" fill="url(#gf07a28)"/>
<circle cx="188.82" cy="409.02" r="2.9" fill="url(#gf07a28)"/>
<circle cx="193.66" cy="395.6" r="2.9" fill="url(#gf07a28)"/>
<circle cx="198.5" cy="380.72" r="2.9" fill="url(#gf07a28)"/>
<polyline points="213.02,503.3 217.86,458.6 222.7,440.92 227.54,416.69 232.38,406.12 237.22,384.78" fill="none" stroke="#82e8e6" stroke-width="1.1"/>
<circle cx="213.02" cy="503.3" r="2.9" fill="url(#g82e8e6)"/>
<circle cx="217.86" cy="458.6" r="2.9" fill="url(#g82e8e6)"/>
<circle cx="222.7" cy="440.92" r="2.9" fill="url(#g82e8e6)"/>
<circle cx="227.54" cy="416.69" r="2.9" fill="url(#g82e8e6)"/>
<circle cx="232.38" cy="406.12" r="2.9" fill="url(#g82e8e6)"/>
<circle cx="237.22" cy="384.78" r="2.9" fill="url(#g82e8e6)"/>
<polyline points="251.74,503.3 256.58,460.12 261.42,435.79 266.26,416.69 271.1,399.41 275.94,382.9" fill="none" stroke="#eaa82a" stroke-width="1.1"/>
<circle cx="251.74" cy="503.3" r="2.9" fill="url(#geaa82a)"/>
<circle cx="256.58" cy="460.12" r="2.9" fill="url(#geaa82a)"/>
<circle cx="261.42" cy="435.79" r="2.9" fill="url(#geaa82a)"/>
<circle cx="266.26" cy="416.69" r="2.9" fill="url(#geaa82a)"/>
<circle cx="271.1" cy="399.41" r="2.9" fill="url(#geaa82a)"/>
<circle cx="275.94" cy="382.9" r="2.9" fill="url(#geaa82a)"/>
<polyline points="290.46,503.3 295.3,452.09 300.14,428.78 304.98,415.72 309.82,399.62 314.66,381.79" fill="none" stroke="#b2e89c" stroke-width="1.1"/>
<circle cx="290.46" cy="503.3" r="2.9" fill="url(#gb2e89c)"/>
<circle cx="295.3" cy="452.09" r="2.9" fill="url(#gb2e89c)"/>
<circle cx="300.14" cy="428.78" r="2.9" fill="url(#gb2e89c)"/>
<circle cx="304.98" cy="415.72" r="2.9" fill="url(#gb2e89c)"/>
<circle cx="309.82" cy="399.62" r="2.9" fill="url(#gb2e89c)"/>
<circle cx="314.66" cy="381.79" r="2.9" fill="url(#gb2e89c)"/>
<text x="186.5" y="539.5" font-size="12.17" text-anchor="middle" fill="#1a1a1a" textLength="43.55" lengthAdjust="spacingAndGlyphs">Time (h)</text>
<text transform="translate(11.4 496.6) rotate(-90)" font-size="12.48" text-anchor="start" fill="#1a1a1a" textLength="114.46" lengthAdjust="spacingAndGlyphs">Yield of CO (μmol g<tspan font-size="6.45" dy="-6">-1</tspan><tspan dy="6">)</tspan></text>
<text x="5.4" y="376.3" font-size="17.68" text-anchor="start" font-weight="bold" fill="#000" textLength="10.38" lengthAdjust="spacingAndGlyphs">g</text>
<path d="M390.95 372H676.4" fill="none" stroke="#4a4a4a" stroke-width="1.45"/>
<path d="M676.4 371.5V513.7" fill="none" stroke="#262626" stroke-width="1.2"/>
<path d="M390.95 371.5V513.7H677" fill="none" stroke="#1c1c1c" stroke-width="1.2"/>
<path d="M401.4 513.7v3M455.32 513.7v3M509.24 513.7v3M563.16 513.7v3M617.08 513.7v3M671 513.7v3M428.36 513.7v1.8M482.28 513.7v1.8M536.2 513.7v1.8M590.12 513.7v1.8M644.04 513.7v1.8" stroke="#1c1c1c" stroke-width="1.0"/>
<text x="401.4" y="525.6" font-size="9.57" text-anchor="middle" fill="#1a1a1a" textLength="5.12" lengthAdjust="spacingAndGlyphs">0</text>
<text x="455.32" y="525.6" font-size="9.57" text-anchor="middle" fill="#1a1a1a" textLength="10.23" lengthAdjust="spacingAndGlyphs">10</text>
<text x="509.24" y="525.6" font-size="9.57" text-anchor="middle" fill="#1a1a1a" textLength="10.23" lengthAdjust="spacingAndGlyphs">20</text>
<text x="563.16" y="525.6" font-size="9.57" text-anchor="middle" fill="#1a1a1a" textLength="10.23" lengthAdjust="spacingAndGlyphs">30</text>
<text x="617.08" y="525.6" font-size="9.57" text-anchor="middle" fill="#1a1a1a" textLength="10.23" lengthAdjust="spacingAndGlyphs">40</text>
<text x="671" y="525.6" font-size="9.57" text-anchor="middle" fill="#1a1a1a" textLength="10.23" lengthAdjust="spacingAndGlyphs">50</text>
<path d="M390.95 505.6h-3M390.95 485.38h-3M390.95 465.15h-3M390.95 444.93h-3M390.95 424.7h-3M390.95 404.48h-3M390.95 384.25h-3M390.95 495.49h-1.8M390.95 475.26h-1.8M390.95 455.04h-1.8M390.95 434.81h-1.8M390.95 414.59h-1.8M390.95 394.36h-1.8M390.95 374.14h-1.8" stroke="#1c1c1c" stroke-width="1.0"/>
<text x="385.5" y="508.2" font-size="9.57" text-anchor="end" fill="#1a1a1a" textLength="17.91" lengthAdjust="spacingAndGlyphs">16.0</text>
<text x="385.5" y="487.98" font-size="9.57" text-anchor="end" fill="#1a1a1a" textLength="17.91" lengthAdjust="spacingAndGlyphs">16.5</text>
<text x="385.5" y="467.75" font-size="9.57" text-anchor="end" fill="#1a1a1a" textLength="17.91" lengthAdjust="spacingAndGlyphs">17.0</text>
<text x="385.5" y="447.53" font-size="9.57" text-anchor="end" fill="#1a1a1a" textLength="17.91" lengthAdjust="spacingAndGlyphs">17.5</text>
<text x="385.5" y="427.3" font-size="9.57" text-anchor="end" fill="#1a1a1a" textLength="17.91" lengthAdjust="spacingAndGlyphs">18.0</text>
<text x="385.5" y="407.08" font-size="9.57" text-anchor="end" fill="#1a1a1a" textLength="17.91" lengthAdjust="spacingAndGlyphs">18.5</text>
<text x="385.5" y="386.85" font-size="9.57" text-anchor="end" fill="#1a1a1a" textLength="17.91" lengthAdjust="spacingAndGlyphs">19.0</text>
<path d="M406.79 400.43L428.36 485.38" stroke="#e6561c" stroke-width="1.1"/>
<path d="M430.36 481.77L442.34 407.88" stroke="#111" stroke-width="1.1" stroke-dasharray="2 1.6"/>
<path d="M444.54 404.48L466.1 489.42" stroke="#4aa8f2" stroke-width="1.1"/>
<path d="M468.1 485.82L480.08 403.83" stroke="#111" stroke-width="1.1" stroke-dasharray="2 1.6"/>
<path d="M482.28 400.43L503.85 481.33" stroke="#e6561c" stroke-width="1.1"/>
<path d="M505.85 477.73L517.82 407.88" stroke="#111" stroke-width="1.1" stroke-dasharray="2 1.6"/>
<path d="M520.02 404.48L541.59 493.46" stroke="#4aa8f2" stroke-width="1.1"/>
<path d="M543.59 489.86L555.57 403.83" stroke="#111" stroke-width="1.1" stroke-dasharray="2 1.6"/>
<path d="M557.77 400.43L579.34 485.38" stroke="#e6561c" stroke-width="1.1"/>
<path d="M581.34 481.77L593.31 399.78" stroke="#111" stroke-width="1.1" stroke-dasharray="2 1.6"/>
<path d="M595.51 396.38L617.08 489.42" stroke="#4aa8f2" stroke-width="1.1"/>
<path d="M619.08 485.82L631.06 407.88" stroke="#111" stroke-width="1.1" stroke-dasharray="2 1.6"/>
<path d="M633.26 404.48L654.82 481.33" stroke="#e6561c" stroke-width="1.1"/>
<circle cx="406.79" cy="400.43" r="2.9" fill="url(#ge6561c)"/>
<circle cx="428.36" cy="485.38" r="2.9" fill="url(#g4aa8f2)"/>
<circle cx="444.54" cy="404.48" r="2.9" fill="url(#ge6561c)"/>
<circle cx="466.1" cy="489.42" r="2.9" fill="url(#g4aa8f2)"/>
<circle cx="482.28" cy="400.43" r="2.9" fill="url(#ge6561c)"/>
<circle cx="503.85" cy="481.33" r="2.9" fill="url(#g4aa8f2)"/>
<circle cx="520.02" cy="404.48" r="2.9" fill="url(#ge6561c)"/>
<circle cx="541.59" cy="493.46" r="2.9" fill="url(#g4aa8f2)"/>
<circle cx="557.77" cy="400.43" r="2.9" fill="url(#ge6561c)"/>
<circle cx="579.34" cy="485.38" r="2.9" fill="url(#g4aa8f2)"/>
<circle cx="595.51" cy="396.38" r="2.9" fill="url(#ge6561c)"/>
<circle cx="617.08" cy="489.42" r="2.9" fill="url(#g4aa8f2)"/>
<circle cx="633.26" cy="404.48" r="2.9" fill="url(#ge6561c)"/>
<circle cx="654.82" cy="481.33" r="2.9" fill="url(#g4aa8f2)"/>
<text x="399.2" y="386.3" font-size="9.78" text-anchor="start" font-weight="bold" font-style="italic" fill="#e6561c" textLength="59.54" lengthAdjust="spacingAndGlyphs">Initial current</text>
<text x="396.9" y="507.5" font-size="9.78" text-anchor="start" font-weight="bold" font-style="italic" fill="#4aa8f2" textLength="56.93" lengthAdjust="spacingAndGlyphs">Final current</text>
<text x="534" y="540.6" font-size="12.27" text-anchor="middle" fill="#1a1a1a" textLength="43.92" lengthAdjust="spacingAndGlyphs">Time (h)</text>
<text transform="translate(355.7 442.3) rotate(-90)" font-size="12.27" text-anchor="middle" fill="#1a1a1a" textLength="36.59" lengthAdjust="spacingAndGlyphs"><tspan font-style="italic">I</tspan><tspan font-size="7.80" dy="2.5">sc</tspan><tspan dy="-2.5"> (μA)</tspan></text>
<text x="347" y="385.5" font-size="17.68" text-anchor="start" font-weight="bold" fill="#000" textLength="10.38" lengthAdjust="spacingAndGlyphs">h</text>
</svg></body></html>
